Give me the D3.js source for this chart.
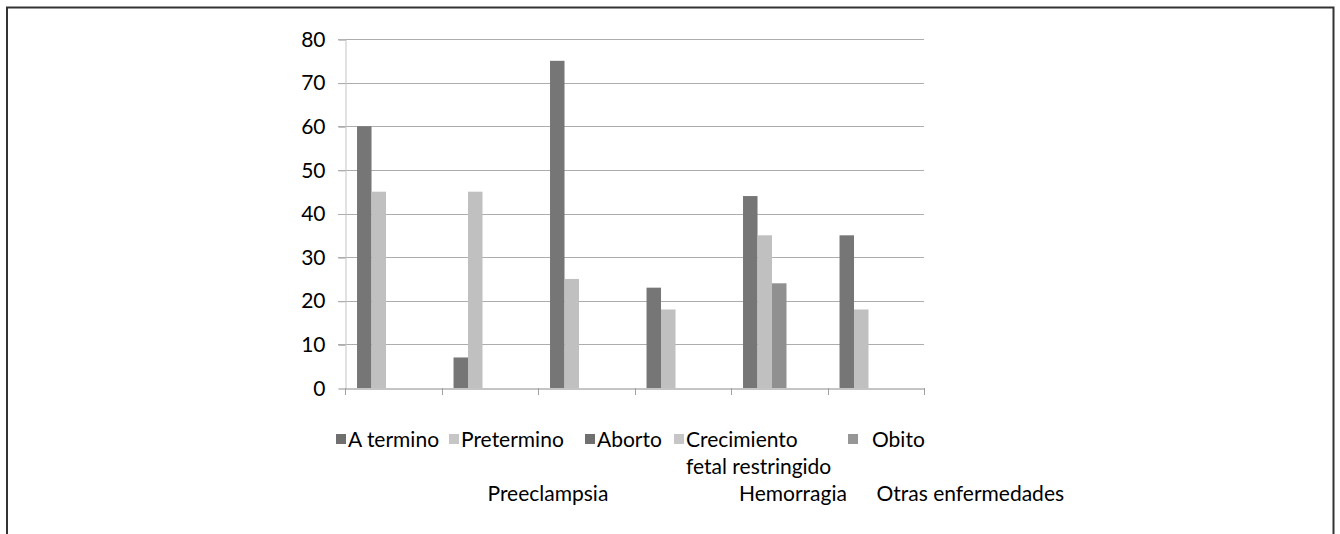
<!DOCTYPE html>
<html>
<head>
<meta charset="utf-8">
<script src="https://cdn.jsdelivr.net/npm/d3@7"></script>
<style>
  body { margin: 0; background: #fff; }
  svg { display: block; }
  text { font-family: Lato, "Open Sans", sans-serif; fill: #000; }
</style>
</head>
<body>
<div id="chart"></div>
<script>
// categories (the original axis shows no labels for them)
var categories = [1, 2, 3, 4, 5, 6];

// series values per category
var aTermino   = [60, 7, 75, 23, 44, 35];
var pretermino = [45, 45, 25, 18, 35, 18];
var obito      = [0, 0, 0, 0, 24, 0];

var yTicks = [0, 10, 20, 30, 40, 50, 60, 70, 80];

var legendNames = ["A termino", "Pretermino", "Aborto", "Crecimiento|fetal restringido", "Obito"];
var legendColours = ["#6f6f6f", "#c6c6c6", "#6f6f6f", "#c6c6c6", "#969696"];

var extraLabels = ["Preeclampsia", "Hemorragia", "Otras enfermedades"];

var width = 1340, height = 534;
var fontSize = "21px";

var svg = d3.select("#chart").append("svg")
  .attr("width", width)
  .attr("height", height);

// frame around the picture (no bottom edge)
svg.append("path")
  .attr("d", "M7,534 V7.5 H1333.5 V534")
  .attr("fill", "none")
  .attr("stroke", "#333")
  .attr("stroke-width", 2);

var x = d3.scaleBand()
  .domain(categories)
  .range([345, 924])
  .padding(0);

// five slots per category, as in the source chart
var slot = d3.scaleBand()
  .domain([0, 1, 2, 3, 4])
  .range([0, x.bandwidth()])
  .paddingInner(0)
  .paddingOuter(0.83);

var y = d3.scaleLinear()
  .domain([0, 80])
  .range([388, 39]);

// gridlines
svg.append("g")
  .selectAll("line")
  .data(yTicks.filter(function(d) { return d > 0; }))
  .enter()
  .append("line")
  .attr("x1", 338)
  .attr("x2", 924)
  .attr("y1", function(d) { return Math.round(y(d)) + 0.5; })
  .attr("y2", function(d) { return Math.round(y(d)) + 0.5; })
  .attr("stroke", "#adadad")
  .attr("stroke-width", 1);

// y axis
var yAxis = d3.axisLeft(y)
  .tickValues(yTicks)
  .tickSize(7)
  .tickPadding(13);

var gy = svg.append("g")
  .attr("transform", "translate(345.5,0.5)")
  .call(yAxis);
gy.select(".domain").attr("stroke", "#c4c4c4");
gy.selectAll(".tick line").attr("stroke", "#adadad");
gy.selectAll(".tick text")
  .style("font-family", "Lato, sans-serif")
  .style("font-size", fontSize)
  .attr("fill", "#000");

// bars
var series = [aTermino, pretermino, obito];
var barColours = ["#767676", "#c0c0c0", "#909090"];

series.forEach(function(vals, si) {
  svg.append("g")
    .selectAll("rect")
    .data(categories.map(function(c, i) { return { cat: c, v: vals[i] }; })
      .filter(function(d) { return d.v > 0; }))
    .enter()
    .append("rect")
    .attr("x", function(d) { return x(d.cat) + slot(si); })
    .attr("width", slot.bandwidth())
    .attr("y", function(d) { return y(d.v); })
    .attr("height", function(d) { return y(0) - y(d.v); })
    .attr("fill", barColours[si]);
});

// x axis
var xAxis = d3.axisBottom(x)
  .tickSizeInner(0)
  .tickSizeOuter(0)
  .tickFormat("");

var gx = svg.append("g")
  .attr("transform", "translate(0," + (Math.round(y(0)) + 0.5) + ")")
  .call(xAxis);
gx.select(".domain").attr("stroke", "#8a8a8a");

// category separator ticks
svg.append("g")
  .selectAll("line")
  .data(categories.concat(["end"]))
  .enter()
  .append("line")
  .attr("x1", function(d) { return Math.round(d === "end" ? x.range()[1] : x(d)) + 0.5; })
  .attr("x2", function(d) { return Math.round(d === "end" ? x.range()[1] : x(d)) + 0.5; })
  .attr("y1", y(0))
  .attr("y2", y(0) + 7)
  .attr("stroke", "#a0a0a0");

// legend, item starts follow the source layout
var legendX = [336, 449, 585, 674, 848];
var legend = svg.append("g").attr("class", "legend");
legendNames.forEach(function(name, i) {
  var lines = name.split("|");
  var lx = legendX[i];
  legend.append("rect")
    .attr("x", lx)
    .attr("y", 434)
    .attr("width", 10)
    .attr("height", 10)
    .attr("fill", legendColours[i]);
  lines.forEach(function(line, li) {
    legend.append("text")
      .attr("x", lx + (i === 4 ? 24 : 12))
      .attr("y", 447 + li * 27)
      .style("font-size", fontSize)
      .text(line);
  });
});

// category names that sit under the legend
var extraX = [x(2) + 46, x(5) + 8, x(6) + 49];
svg.append("g")
  .selectAll("text")
  .data(extraLabels)
  .enter()
  .append("text")
  .attr("x", function(d, i) { return extraX[i]; })
  .attr("y", 501)
  .style("font-size", fontSize)
  .text(function(d) { return d; });
</script>
</body>
</html>
